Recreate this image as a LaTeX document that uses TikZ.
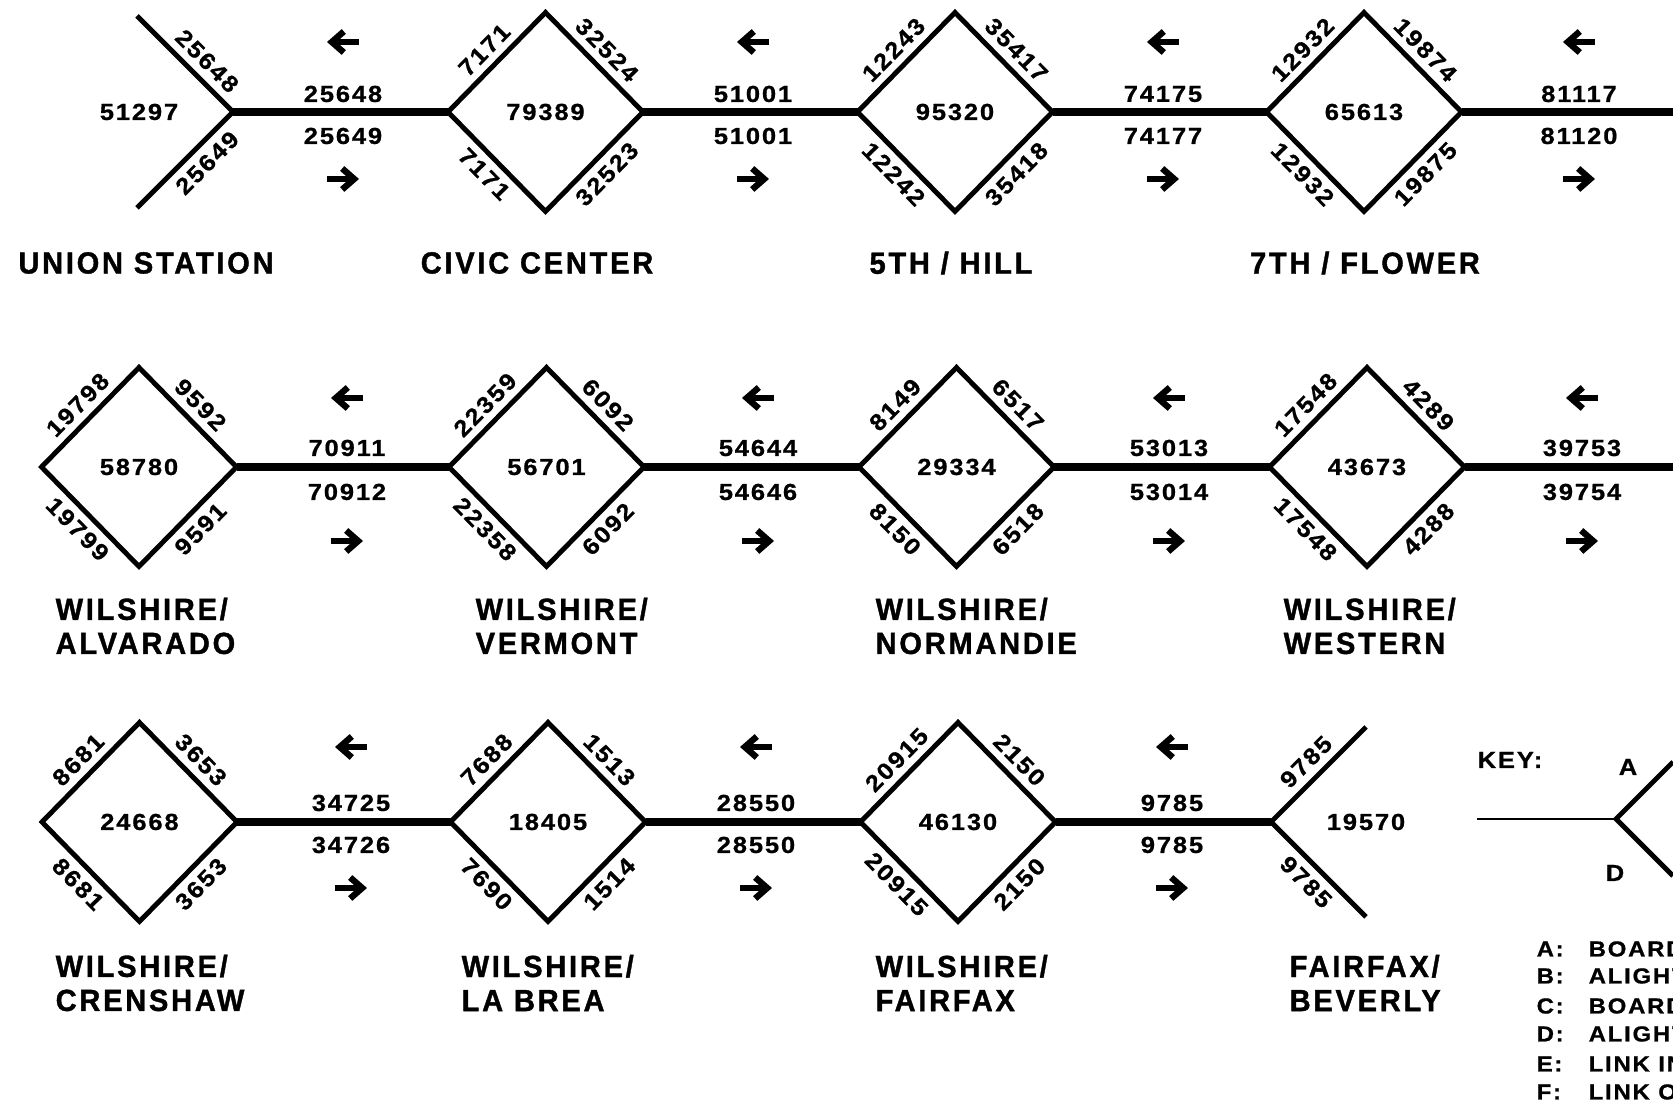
\documentclass[tikz,border=0pt]{standalone}
\usepackage{fontspec}
\setmainfont{Liberation Sans}
\newfontfamily\numfont{Liberation Sans}[FakeStretch=1.1,LetterSpace=8,FakeBold=0.8]
\newfontfamily\namefont{Liberation Sans}[FakeStretch=0.95,LetterSpace=9,FakeBold=1.2]
\usetikzlibrary{shapes.geometric,arrows.meta}

\begin{document}
\begin{tikzpicture}[every node/.style={font=\numfont\bfseries\fontsize{6.6}{7.5}\selectfont,inner sep=1pt},
  stn/.style={shape=diamond,draw,line width=1.4pt,minimum width=1.95cm,minimum height=1.99cm,inner sep=0pt,outer sep=0pt},
  link/.style={line width=2.4pt},
  branch/.style={line width=1.4pt,line join=miter},
  elbl/.style={midway,sloped},
  dirarr/.style={line width=1.8pt,-{Straight Barb[length=1.2mm,width=2.1mm]}},
  stnname/.style={font=\namefont\bfseries\fontsize{8.7}{9.7}\selectfont,inner sep=0pt,align=left},
  lgd/.style={font=\numfont\bfseries\fontsize{6.2}{7}\selectfont,anchor=west,inner sep=0pt}]
\useasboundingbox (0,0) rectangle (16.73,11.12);
% row 1
\coordinate (uni) at (2.33,10.00);
\coordinate (uni-a) at (1.37,10.96);
\coordinate (uni-b) at (1.37,9.04);
\draw[branch] (uni-a) -- (uni) -- (uni-b);
\path (uni-a) -- (uni) node[pos=0.6,sloped,above=1.5pt] (uni-1) {25648};
\path (uni-b) -- (uni) node[pos=0.6,sloped,below=1.5pt] (uni-2) {25649};
\node (uni-t) at (1.39,10.00) {51297};
\node[stnname] (uni-n) at (1.46,8.49) {UNION STATION};
\node[stn] (civ) at (5.455,10.00) {79389};
\node[stn] (hil) at (9.55,10.00) {95320};
\node[stn] (flo) at (13.64,10.00) {65613};
\coordinate (r1-end) at (16.73,10.00);
\draw[link] (uni) -- (civ.west);
\draw[link] (civ.east) -- (hil.west);
\draw[link] (hil.east) -- (flo.west);
\draw[link] (flo.east) -- (r1-end);
\path (civ.west) -- node[elbl,above=1.5pt] (civ-1) {7171} (civ.north) -- node[elbl,above=1.5pt] (civ-2) {32524} (civ.east);
\path (civ.west) -- node[elbl,below=1.5pt] (civ-3) {7171} (civ.south) -- node[elbl,below=1.5pt] (civ-4) {32523} (civ.east);
\path (hil.west) -- node[elbl,above=1.5pt] (hil-1) {12243} (hil.north) -- node[elbl,above=1.5pt] (hil-2) {35417} (hil.east);
\path (hil.west) -- node[elbl,below=1.5pt] (hil-3) {12242} (hil.south) -- node[elbl,below=1.5pt] (hil-4) {35418} (hil.east);
\path (flo.west) -- node[elbl,above=1.5pt] (flo-1) {12932} (flo.north) -- node[elbl,above=1.5pt] (flo-2) {19874} (flo.east);
\path (flo.west) -- node[elbl,below=1.5pt] (flo-3) {12932} (flo.south) -- node[elbl,below=1.5pt] (flo-4) {19875} (flo.east);
\node[stnname] (civ-n) at (5.37,8.49) {CIVIC CENTER};
\node[stnname] (hil-n) at (9.51,8.49) {5TH / HILL};
\node[stnname] (flo-n) at (13.65,8.49) {7TH / FLOWER};
\node (l11-w) at (3.43,10.18) {25648};
\node (l11-e) at (3.43,9.76) {25649};
\coordinate (l11-wa) at (3.43,10.70); \coordinate (l11-ea) at (3.43,9.33);
\node (l12-w) at (7.53,10.18) {51001};
\node (l12-e) at (7.53,9.76) {51001};
\coordinate (l12-wa) at (7.53,10.70); \coordinate (l12-ea) at (7.53,9.33);
\node (l13-w) at (11.63,10.18) {74175};
\node (l13-e) at (11.63,9.76) {74177};
\coordinate (l13-wa) at (11.63,10.70); \coordinate (l13-ea) at (11.63,9.33);
\node (l14-w) at (15.79,10.18) {81117};
\node (l14-e) at (15.79,9.76) {81120};
\coordinate (l14-wa) at (15.79,10.70); \coordinate (l14-ea) at (15.79,9.33);
% row 2
\node[stn] (alv) at (1.39,6.45) {58780};
\node[stn] (ver) at (5.465,6.45) {56701};
\node[stn] (nor) at (9.565,6.45) {29334};
\node[stn] (wes) at (13.67,6.45) {43673};
\coordinate (r2-end) at (16.73,6.45);
\draw[link] (alv.east) -- (ver.west);
\draw[link] (ver.east) -- (nor.west);
\draw[link] (nor.east) -- (wes.west);
\draw[link] (wes.east) -- (r2-end);
\path (alv.west) -- node[elbl,above=1.5pt] (alv-1) {19798} (alv.north) -- node[elbl,above=1.5pt] (alv-2) {9592} (alv.east);
\path (alv.west) -- node[elbl,below=1.5pt] (alv-3) {19799} (alv.south) -- node[elbl,below=1.5pt] (alv-4) {9591} (alv.east);
\path (ver.west) -- node[elbl,above=1.5pt] (ver-1) {22359} (ver.north) -- node[elbl,above=1.5pt] (ver-2) {6092} (ver.east);
\path (ver.west) -- node[elbl,below=1.5pt] (ver-3) {22358} (ver.south) -- node[elbl,below=1.5pt] (ver-4) {6092} (ver.east);
\path (nor.west) -- node[elbl,above=1.5pt] (nor-1) {8149} (nor.north) -- node[elbl,above=1.5pt] (nor-2) {6517} (nor.east);
\path (nor.west) -- node[elbl,below=1.5pt] (nor-3) {8150} (nor.south) -- node[elbl,below=1.5pt] (nor-4) {6518} (nor.east);
\path (wes.west) -- node[elbl,above=1.5pt] (wes-1) {17548} (wes.north) -- node[elbl,above=1.5pt] (wes-2) {4289} (wes.east);
\path (wes.west) -- node[elbl,below=1.5pt] (wes-3) {17548} (wes.south) -- node[elbl,below=1.5pt] (wes-4) {4288} (wes.east);
\node[stnname,anchor=west] (alv-n) at (0.55,4.86) {WILSHIRE/\\ALVARADO};
\node[stnname,anchor=west] (ver-n) at (4.75,4.86) {WILSHIRE/\\VERMONT};
\node[stnname,anchor=west] (nor-n) at (8.75,4.86) {WILSHIRE/\\NORMANDIE};
\node[stnname,anchor=west] (wes-n) at (12.83,4.86) {WILSHIRE/\\WESTERN};
\node (l21-w) at (3.47,6.64) {70911};
\node (l21-e) at (3.47,6.20) {70912};
\coordinate (l21-wa) at (3.47,7.14); \coordinate (l21-ea) at (3.47,5.71);
\node (l22-w) at (7.58,6.64) {54644};
\node (l22-e) at (7.58,6.20) {54646};
\coordinate (l22-wa) at (7.58,7.14); \coordinate (l22-ea) at (7.58,5.71);
\node (l23-w) at (11.69,6.64) {53013};
\node (l23-e) at (11.69,6.20) {53014};
\coordinate (l23-wa) at (11.69,7.14); \coordinate (l23-ea) at (11.69,5.71);
\node (l24-w) at (15.82,6.64) {39753};
\node (l24-e) at (15.82,6.20) {39754};
\coordinate (l24-wa) at (15.82,7.14); \coordinate (l24-ea) at (15.82,5.71);
% row 3
\node[stn] (cre) at (1.395,2.90) {24668};
\node[stn] (lab) at (5.48,2.90) {18405};
\node[stn] (fai) at (9.58,2.90) {46130};
\coordinate (fbv) at (12.71,2.90);
\coordinate (fbv-a) at (13.66,3.85);
\coordinate (fbv-b) at (13.66,1.95);
\draw[branch] (fbv-a) -- (fbv) -- (fbv-b);
\draw[link] (cre.east) -- (lab.west);
\draw[link] (lab.east) -- (fai.west);
\draw[link] (fai.east) -- (fbv);
\path (cre.west) -- node[elbl,above=1.5pt] (cre-1) {8681} (cre.north) -- node[elbl,above=1.5pt] (cre-2) {3653} (cre.east);
\path (cre.west) -- node[elbl,below=1.5pt] (cre-3) {8681} (cre.south) -- node[elbl,below=1.5pt] (cre-4) {3653} (cre.east);
\path (lab.west) -- node[elbl,above=1.5pt] (lab-1) {7688} (lab.north) -- node[elbl,above=1.5pt] (lab-2) {1513} (lab.east);
\path (lab.west) -- node[elbl,below=1.5pt] (lab-3) {7690} (lab.south) -- node[elbl,below=1.5pt] (lab-4) {1514} (lab.east);
\path (fai.west) -- node[elbl,above=1.5pt] (fai-1) {20915} (fai.north) -- node[elbl,above=1.5pt] (fai-2) {2150} (fai.east);
\path (fai.west) -- node[elbl,below=1.5pt] (fai-3) {20915} (fai.south) -- node[elbl,below=1.5pt] (fai-4) {2150} (fai.east);
\path (fbv) -- (fbv-a) node[pos=0.5,sloped,above=1.5pt] (fbv-1) {9785};
\path (fbv) -- (fbv-b) node[pos=0.5,sloped,below=1.5pt] (fbv-2) {9785};
\node (fbv-t) at (13.66,2.90) {19570};
\node[stnname,anchor=west] (cre-n) at (0.55,1.29) {WILSHIRE/\\CRENSHAW};
\node[stnname,anchor=west] (lab-n) at (4.61,1.29) {WILSHIRE/\\LA BREA};
\node[stnname,anchor=west] (fai-n) at (8.75,1.29) {WILSHIRE/\\FAIRFAX};
\node[stnname,anchor=west] (fbv-n) at (12.89,1.29) {FAIRFAX/\\BEVERLY};
\node (l31-w) at (3.51,3.09) {34725};
\node (l31-e) at (3.51,2.67) {34726};
\coordinate (l31-wa) at (3.51,3.65); \coordinate (l31-ea) at (3.51,2.24);
\node (l32-w) at (7.56,3.09) {28550};
\node (l32-e) at (7.56,2.67) {28550};
\coordinate (l32-wa) at (7.56,3.65); \coordinate (l32-ea) at (7.56,2.24);
\node (l33-w) at (11.72,3.09) {9785};
\node (l33-e) at (11.72,2.67) {9785};
\coordinate (l33-wa) at (11.72,3.65); \coordinate (l33-ea) at (11.72,2.24);
% direction arrows
\draw[dirarr] ([xshift=1.6mm]l11-wa) -- ([xshift=-1.6mm]l11-wa);
\draw[dirarr] ([xshift=-1.6mm]l11-ea) -- ([xshift=1.6mm]l11-ea);
\draw[dirarr] ([xshift=1.6mm]l12-wa) -- ([xshift=-1.6mm]l12-wa);
\draw[dirarr] ([xshift=-1.6mm]l12-ea) -- ([xshift=1.6mm]l12-ea);
\draw[dirarr] ([xshift=1.6mm]l13-wa) -- ([xshift=-1.6mm]l13-wa);
\draw[dirarr] ([xshift=-1.6mm]l13-ea) -- ([xshift=1.6mm]l13-ea);
\draw[dirarr] ([xshift=1.6mm]l14-wa) -- ([xshift=-1.6mm]l14-wa);
\draw[dirarr] ([xshift=-1.6mm]l14-ea) -- ([xshift=1.6mm]l14-ea);
\draw[dirarr] ([xshift=1.6mm]l21-wa) -- ([xshift=-1.6mm]l21-wa);
\draw[dirarr] ([xshift=-1.6mm]l21-ea) -- ([xshift=1.6mm]l21-ea);
\draw[dirarr] ([xshift=1.6mm]l22-wa) -- ([xshift=-1.6mm]l22-wa);
\draw[dirarr] ([xshift=-1.6mm]l22-ea) -- ([xshift=1.6mm]l22-ea);
\draw[dirarr] ([xshift=1.6mm]l23-wa) -- ([xshift=-1.6mm]l23-wa);
\draw[dirarr] ([xshift=-1.6mm]l23-ea) -- ([xshift=1.6mm]l23-ea);
\draw[dirarr] ([xshift=1.6mm]l24-wa) -- ([xshift=-1.6mm]l24-wa);
\draw[dirarr] ([xshift=-1.6mm]l24-ea) -- ([xshift=1.6mm]l24-ea);
\draw[dirarr] ([xshift=1.6mm]l31-wa) -- ([xshift=-1.6mm]l31-wa);
\draw[dirarr] ([xshift=-1.6mm]l31-ea) -- ([xshift=1.6mm]l31-ea);
\draw[dirarr] ([xshift=1.6mm]l32-wa) -- ([xshift=-1.6mm]l32-wa);
\draw[dirarr] ([xshift=-1.6mm]l32-ea) -- ([xshift=1.6mm]l32-ea);
\draw[dirarr] ([xshift=1.6mm]l33-wa) -- ([xshift=-1.6mm]l33-wa);
\draw[dirarr] ([xshift=-1.6mm]l33-ea) -- ([xshift=1.6mm]l33-ea);
% key
\node[anchor=west,inner sep=0pt] (key) at (14.77,3.52) {KEY:};
\coordinate (k-l) at (14.77,2.93);
\coordinate (k-v) at (16.16,2.93);
\coordinate (k-a) at (16.73,3.50);
\coordinate (k-d) at (16.73,2.36);
\draw[line width=0.6pt] (k-l) -- (k-v);
\draw[branch] (k-a) -- (k-v) -- (k-d);
\node (k-an) at (16.28,3.45) {A};
\node (k-dn) at (16.15,2.39) {D};
\node[lgd] (lg-1) at (15.36,1.63) {A:};
\node[lgd] (lg-1t) at (15.88,1.63) {BOARD};
\node[lgd] (lg-2) at (15.36,1.36) {B:};
\node[lgd] (lg-2t) at (15.88,1.36) {ALIGHT};
\node[lgd] (lg-3) at (15.36,1.06) {C:};
\node[lgd] (lg-3t) at (15.88,1.06) {BOARD};
\node[lgd] (lg-4) at (15.36,0.78) {D:};
\node[lgd] (lg-4t) at (15.88,0.78) {ALIGHT};
\node[lgd] (lg-5) at (15.36,0.48) {E:};
\node[lgd] (lg-5t) at (15.88,0.48) {LINK IN};
\node[lgd] (lg-6) at (15.36,0.20) {F:};
\node[lgd] (lg-6t) at (15.88,0.20) {LINK OU};
\end{tikzpicture}
\end{document}
